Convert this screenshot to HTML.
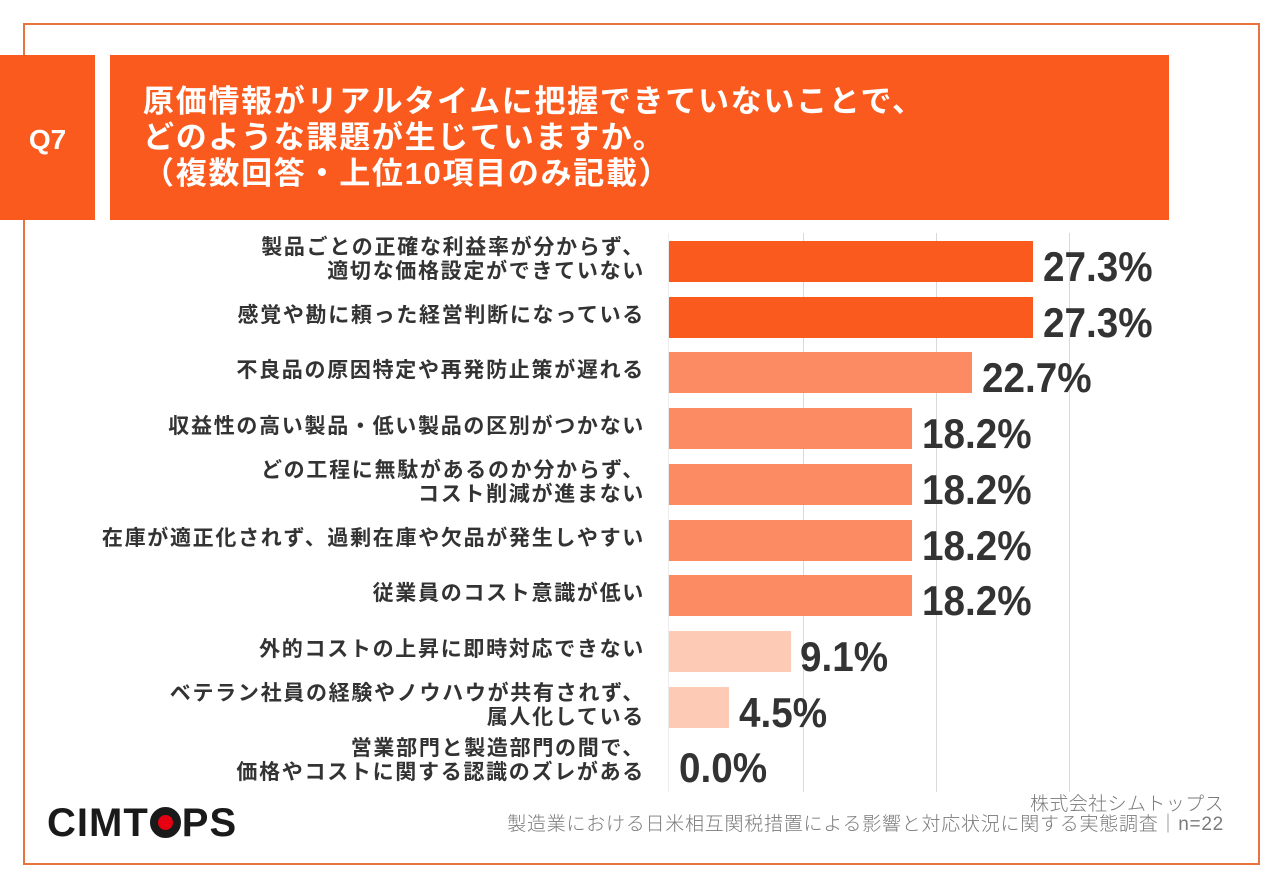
<!DOCTYPE html>
<html><head><meta charset="utf-8"><style>
*{margin:0;padding:0;box-sizing:border-box}
body{width:1280px;height:886px;background:#fff;position:relative;overflow:hidden;font-family:"Liberation Sans","Noto Sans CJK JP",sans-serif}
.frame{position:absolute;left:23px;top:23px;width:1237px;height:842px;border:2px solid #e8733f}
.q{position:absolute;left:0;top:55px;width:95px;height:165px;background:#fb5a1e;color:#fff;font-weight:bold;font-size:28px;line-height:170px;text-align:center}
.tb{position:absolute;left:110px;top:55px;width:1059px;height:165px;background:#fb5a1e}
.title{position:absolute;left:143px;top:84px;color:#fff;font-weight:bold;font-size:31px;letter-spacing:1.7px;line-height:36px;white-space:nowrap}
.grid{position:absolute;top:233px;height:559px;width:1px;background:#d9d9d9}
.bar{position:absolute;left:669px;height:41px}
.d{background:#fb5a1e}.m{background:#fc8a62}.l{background:#fdcab5}
.lab{position:absolute;left:0;width:645px;text-align:right;font-size:21px;letter-spacing:1.7px;line-height:24px;color:#333;font-weight:bold;white-space:nowrap}
.pct{position:absolute;font-size:42px;line-height:42px;font-weight:bold;color:#333;transform:scaleX(0.92);transform-origin:left top;white-space:nowrap}
.foot{position:absolute;right:56px;font-size:19px;letter-spacing:0.4px;color:#7a7a7a;font-weight:300;white-space:nowrap;line-height:20px}
.logo{position:absolute;left:47px;top:802px;font-size:40px;font-weight:bold;color:#1a1a1a;letter-spacing:1px;line-height:42px;white-space:nowrap}
.o{display:inline-block;width:31px;height:31px;border-radius:50%;border:8px solid #1a1a1a;background:#e60012;vertical-align:-2px;margin:0 1px}
</style></head><body>
<div class="frame"></div>
<div class="q">Q7</div>
<div class="tb"></div>
<div class="title">原価情報がリアルタイムに把握できていないことで、<br>どのような課題が生じていますか。<br>（複数回答・上位10項目のみ記載）</div>

<div class="grid" style="left:668px;background:#ececec"></div>
<div class="grid" style="left:803px"></div>
<div class="grid" style="left:936px"></div>
<div class="grid" style="left:1069px"></div>

<div class="bar d" style="top:241px;width:364px"></div>
<div class="bar d" style="top:297px;width:364px"></div>
<div class="bar m" style="top:352px;width:303px"></div>
<div class="bar m" style="top:408px;width:243px"></div>
<div class="bar m" style="top:464px;width:243px"></div>
<div class="bar m" style="top:520px;width:243px"></div>
<div class="bar m" style="top:575px;width:243px"></div>
<div class="bar l" style="top:631px;width:122px"></div>
<div class="bar l" style="top:687px;width:60px"></div>

<div class="lab" style="top:236px">製品ごとの正確な利益率が分からず、<br>適切な価格設定ができていない</div>
<div class="lab" style="top:304px">感覚や勘に頼った経営判断になっている</div>
<div class="lab" style="top:359px">不良品の原因特定や再発防止策が遅れる</div>
<div class="lab" style="top:415px">収益性の高い製品・低い製品の区別がつかない</div>
<div class="lab" style="top:459px">どの工程に無駄があるのか分からず、<br>コスト削減が進まない</div>
<div class="lab" style="top:527px">在庫が適正化されず、過剰在庫や欠品が発生しやすい</div>
<div class="lab" style="top:582px">従業員のコスト意識が低い</div>
<div class="lab" style="top:638px">外的コストの上昇に即時対応できない</div>
<div class="lab" style="top:682px">ベテラン社員の経験やノウハウが共有されず、<br>属人化している</div>
<div class="lab" style="top:737px">営業部門と製造部門の間で、<br>価格やコストに関する認識のズレがある</div>

<div class="pct" style="left:1043px;top:246px">27.3%</div>
<div class="pct" style="left:1043px;top:302px">27.3%</div>
<div class="pct" style="left:982px;top:357px">22.7%</div>
<div class="pct" style="left:922px;top:413px">18.2%</div>
<div class="pct" style="left:922px;top:469px">18.2%</div>
<div class="pct" style="left:922px;top:525px">18.2%</div>
<div class="pct" style="left:922px;top:580px">18.2%</div>
<div class="pct" style="left:800px;top:636px">9.1%</div>
<div class="pct" style="left:739px;top:692px">4.5%</div>
<div class="pct" style="left:679px;top:747px">0.0%</div>

<div class="foot" style="top:795px">株式会社シムトップス</div>
<div class="foot" style="top:815px;letter-spacing:0.75px">製造業における日米相互関税措置による影響と対応状況に関する実態調査｜n=22</div>

<div class="logo">CIMT<span class="o"></span>PS</div>
</body></html>
